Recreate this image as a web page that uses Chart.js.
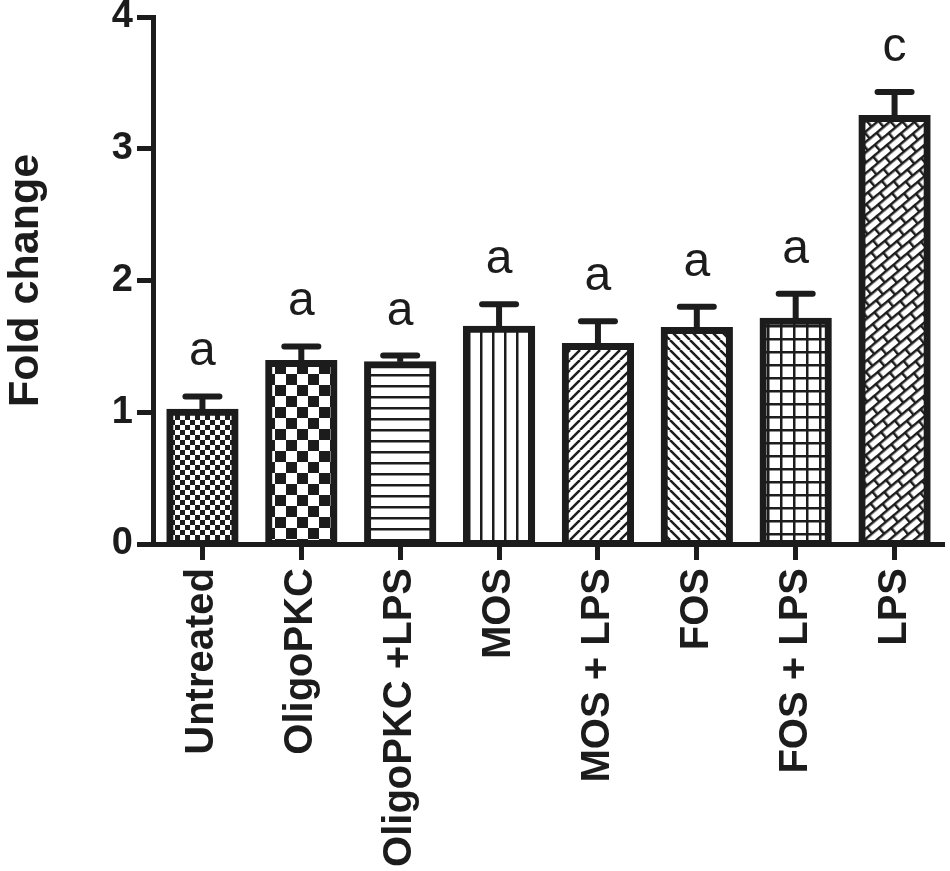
<!DOCTYPE html>
<html>
<head>
<meta charset="utf-8">
<script src="https://cdn.jsdelivr.net/npm/chart.js@4.4.1/dist/chart.umd.min.js"></script>
<style>
  html, body { margin: 0; padding: 0; background: #fff; }
  #wrap { width: 950px; height: 871px; }
</style>
</head>
<body>
<div id="wrap"><canvas id="myChart" width="950" height="871"></canvas></div>
<script>
    // values
    const groups = ['Untreated', 'OligoPKC', 'OligoPKC +LPS', 'MOS', 'MOS + LPS', 'FOS', 'FOS + LPS', 'LPS'];
    const means = [1.00, 1.37, 1.36, 1.63, 1.50, 1.62, 1.69, 3.23];
    const sem = [0.12, 0.13, 0.07, 0.19, 0.19, 0.18, 0.21, 0.20];
    const letters = ['a', 'a', 'a', 'a', 'a', 'a', 'a', 'c'];
    const yTicks = [0, 1, 2, 3, 4];

    const ink = '#1c1c1c';
    const font = "'Liberation Sans', Arial, Helvetica, sans-serif";

    function tile(w, h, draw) {
        const c = document.createElement('canvas');
        c.width = w;
        c.height = h;
        const g = c.getContext('2d');
        g.fillStyle = '#fff';
        g.fillRect(0, 0, w, h);
        g.fillStyle = ink;
        g.strokeStyle = ink;
        draw(g);
        return c;
    }

    const ctx0 = document.createElement('canvas').getContext('2d');

    function checker(s) {
        return ctx0.createPattern(tile(s * 2, s * 2, g => {
            g.fillRect(0, 0, s, s);
            g.fillRect(s, s, s, s);
        }), 'repeat');
    }

    function diag(s, dir) {
        return ctx0.createPattern(tile(s, s, g => {
            g.lineWidth = 2.5;
            g.beginPath();
            for (let k = -1; k <= 1; k++) {
                if (dir > 0) {
                    g.moveTo(k * s, s);
                    g.lineTo(k * s + s, 0);
                } else {
                    g.moveTo(k * s, 0);
                    g.lineTo(k * s + s, s);
                }
            }
            g.stroke();
        }), 'repeat');
    }

    const hLines = ctx0.createPattern(tile(4, 11, g => g.fillRect(0, 0, 4, 2.5)), 'repeat');
    const vLines = ctx0.createPattern(tile(12, 4, g => g.fillRect(0, 0, 2.5, 4)), 'repeat');
    const grid = ctx0.createPattern(tile(13, 13, g => {
        g.fillRect(0, 0, 2.5, 13);
        g.fillRect(0, 0, 13, 2.5);
    }), 'repeat');
    const bricks = ctx0.createPattern(tile(18, 16, g => {
        g.fillRect(0, 0, 18, 2.5);
        g.fillRect(0, 8, 18, 2.5);
        g.fillRect(0, 0, 2.5, 8);
        g.fillRect(9, 8, 2.5, 8);
    }), 'repeat');
    bricks.setTransform(new DOMMatrix().rotate(-40));

    const fills = [checker(5), checker(11), hLines, vLines, diag(10, 1), diag(10, -1), grid, bricks];

    const errorBars = {
        id: 'errorBars',
        afterDatasetsDraw(chart) {
            const ctx = chart.ctx;
            const y = chart.scales.y;
            chart.getDatasetMeta(0).data.forEach((bar, i) => {
                const top = y.getPixelForValue(means[i]) - 3;
                const capY = y.getPixelForValue(means[i] + sem[i]);
                ctx.save();
                ctx.strokeStyle = ink;
                ctx.lineWidth = 6;
                ctx.beginPath();
                ctx.moveTo(bar.x, top);
                ctx.lineTo(bar.x, capY);
                ctx.stroke();
                ctx.lineCap = 'round';
                ctx.beginPath();
                ctx.moveTo(bar.x - 17, capY);
                ctx.lineTo(bar.x + 17, capY);
                ctx.stroke();
                ctx.fillStyle = ink;
                ctx.font = '48px ' + font;
                ctx.textAlign = 'center';
                ctx.textBaseline = 'alphabetic';
                ctx.fillText(letters[i], bar.x, capY - 31);
                ctx.restore();
            });
        }
    };

    const data = {
        labels: groups,
        datasets: [{
            data: means,
            backgroundColor: fills,
            borderColor: ink,
            borderWidth: 7,
            borderSkipped: false,
            inflateAmount: 3.5,
            barPercentage: 0.66,
            categoryPercentage: 1.0
        }]
    };

    const config = {
        type: 'bar',
        data: data,
        options: {
            responsive: false,
            animation: false,
            devicePixelRatio: 1,
            layout: { padding: { top: 17, right: 6, left: 0, bottom: 0 } },
            plugins: {
                legend: { display: false },
                tooltip: { enabled: false }
            },
            scales: {
                x: {
                    offset: true,
                    grid: {
                        offset: false,
                        drawOnChartArea: false,
                        drawTicks: true,
                        tickLength: 16,
                        tickWidth: 5,
                        tickColor: ink
                    },
                    border: { display: true, width: 5, color: ink },
                    ticks: {
                        autoSkip: false,
                        minRotation: 90,
                        maxRotation: 90,
                        padding: 8,
                        color: ink,
                        font: { family: font, weight: 'bold', size: 40 }
                    },
                    afterFit(scale) {
                        scale.height = 327;
                        scale.paddingLeft = 0;
                        scale.paddingRight = 0;
                    }
                },
                y: {
                    min: 0,
                    max: 4,
                    afterBuildTicks(scale) {
                        scale.ticks = yTicks.map(v => ({ value: v }));
                    },
                    grid: {
                        drawOnChartArea: false,
                        drawTicks: true,
                        tickLength: 16,
                        tickWidth: 5,
                        tickColor: ink
                    },
                    border: { display: true, width: 5, color: ink },
                    ticks: {
                        padding: 4,
                        color: ink,
                        font: { family: font, weight: 'bold', size: 38 }
                    },
                    title: {
                        display: true,
                        text: 'Fold change',
                        color: ink,
                        padding: 0,
                        font: { family: font, weight: 'bold', size: 43 }
                    },
                    afterFit(scale) {
                        scale.width = 153;
                        scale.paddingTop = 0;
                        scale.paddingBottom = 0;
                    }
                }
            }
        },
        plugins: [errorBars]
    };

    const myChart = new Chart(document.getElementById('myChart'), config);
</script>
</body>
</html>
